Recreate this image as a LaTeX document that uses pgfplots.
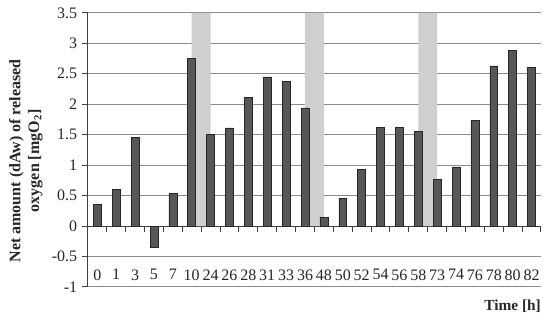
\documentclass[border=0pt]{standalone}
\usepackage{fontspec}
\setmainfont{Liberation Serif}
\usepackage{pgfplots}
\pgfplotsset{compat=1.18}

\definecolor{barfill}{HTML}{575757}
\definecolor{bandc}{HTML}{CFCFCF}
\definecolor{gridc}{HTML}{8C8C8C}

\begin{document}
\begin{tikzpicture}
\begin{axis}[
  scale only axis, width=339.75pt, height=205.5pt,
  xmin=-0.5, xmax=23.5, ymin=-1, ymax=3.5,
  axis x line*=middle, axis y line*=left,
  axis line style={black!75, line width=0.75pt},
  tick align=outside,
  ytick distance=0.5,
  ymajorgrids, grid style={gridc, line width=0.75pt},
  xtick={0,...,23},
  xticklabels={0,1,3,5,7,10,24,26,28,31,33,36,48,50,52,54,56,58,73,74,76,78,80,82},
  minor xtick={-0.5,0.5,...,23.5},
  major x tick style={draw=none},
  minor x tick style={black!75, line width=0.75pt},
  minor tick length=4.5pt,
  major tick length=4.5pt,
  y tick style={black!75, line width=0.75pt},
  tick label style={font=\fontsize{12}{14}\selectfont, text=black!85},
  xticklabel style={yshift=-24.5pt},
  /pgf/number format/assume math mode=true,
  ylabel={Net amount (dAw) of released\\oxygen [mgO\textsubscript{2}]},
  ylabel style={at={(axis description cs:-0.137,0.46)}, anchor=center, align=center,
    font=\bfseries\fontsize{12}{14}\selectfont, text=black!85},
  xlabel={Time [h]},
  xlabel style={at={(axis description cs:1.01,-0.072)}, anchor=east,
    font=\bfseries\fontsize{11.5}{13}\selectfont, text=black!85},
  clip=false,
]
% shaded bands
\addplot[ybar, bar width=1, bar shift=0pt, fill=bandc, draw=none, forget plot]
  coordinates {(5.5,3.5) (11.5,3.5) (17.5,3.5)};
% net amount of released oxygen
\addplot[ybar, bar width=0.42, bar shift=0pt, fill=barfill, draw=black!85, line width=0.4pt]
  coordinates {
  (0,0.35) (1,0.60) (2,1.45) (3,-0.35) (4,0.53) (5,2.75)
  (6,1.50) (7,1.61) (8,2.11) (9,2.45) (10,2.38) (11,1.94)
  (12,0.14) (13,0.46) (14,0.93) (15,1.62) (16,1.62) (17,1.56)
  (18,0.77) (19,0.97) (20,1.74) (21,2.63) (22,2.89) (23,2.60)
  };
\path (axis description cs:-0.194,-0.1204) rectangle (axis description cs:1.0199,1.047);
\end{axis}
\end{tikzpicture}
\end{document}
